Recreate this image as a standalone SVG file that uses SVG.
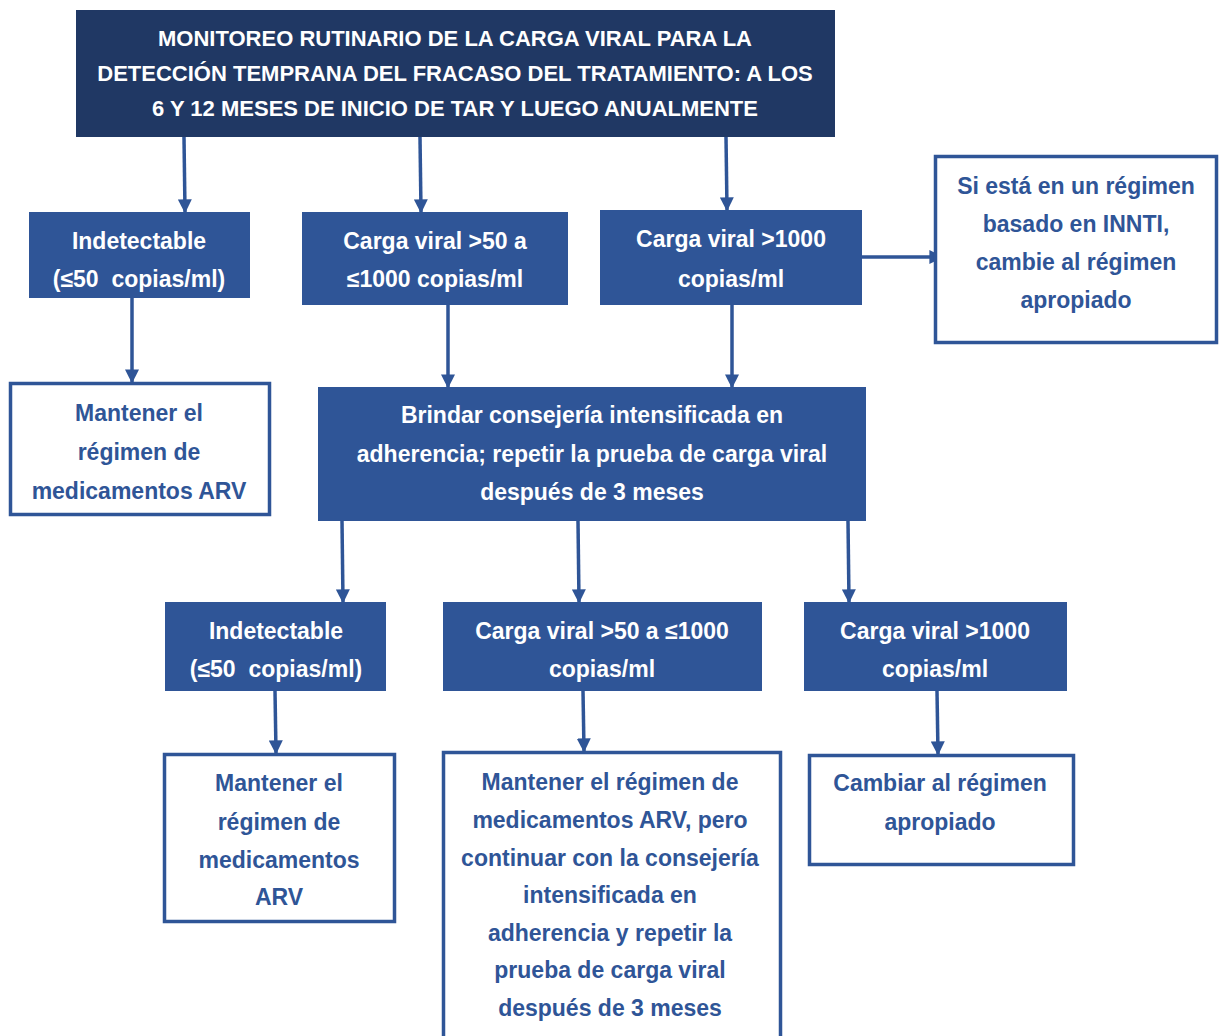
<svg xmlns="http://www.w3.org/2000/svg" width="1220" height="1036" viewBox="0 0 1220 1036">
<style>
.dark{fill:#203864}
.blue{fill:#2f5597}
.white{fill:#ffffff;stroke:#2f5597;stroke-width:3.5}
text{font-family:"Liberation Sans",Arial,sans-serif;font-weight:bold;text-anchor:middle;white-space:pre}
.tw{fill:#ffffff;font-size:23px}
.tt{fill:#ffffff;font-size:22px}
.tb{fill:#2f5597;font-size:23px}
.conn line{stroke:#2f5597;stroke-width:3.5;marker-end:url(#ah)}
</style>
<defs>
<marker id="ah" viewBox="0 0 10 10" refX="9" refY="5" markerWidth="4" markerHeight="4" orient="auto" markerUnits="strokeWidth">
<path d="M0,0 L10,5 L0,10 z" fill="#2f5597"/>
</marker>
</defs>
<rect width="1220" height="1036" fill="#ffffff"/>
<g class="conn">
<line x1="184" y1="137" x2="185" y2="212"/>
<line x1="420" y1="137" x2="421" y2="212"/>
<line x1="726" y1="137" x2="727" y2="210"/>
<line x1="862" y1="257" x2="942" y2="257"/>
<line x1="132" y1="298" x2="132" y2="382"/>
<line x1="448" y1="305" x2="448" y2="387"/>
<line x1="732" y1="305" x2="732" y2="387"/>
<line x1="342" y1="521" x2="343" y2="602"/>
<line x1="578" y1="521" x2="579" y2="602"/>
<line x1="848" y1="521" x2="849" y2="602"/>
<line x1="275" y1="691" x2="276" y2="753"/>
<line x1="583" y1="691" x2="584" y2="751"/>
<line x1="937" y1="691" x2="938" y2="754"/>
</g>
<g id="top">
<rect class="dark" x="76" y="10" width="759" height="127"/>
<text class="tt" x="455" y="46">MONITOREO RUTINARIO DE LA CARGA VIRAL PARA LA</text>
<text class="tt" x="455" y="81">DETECCIÓN TEMPRANA DEL FRACASO DEL TRATAMIENTO: A LOS</text>
<text class="tt" x="455" y="116">6 Y 12 MESES DE INICIO DE TAR Y LUEGO ANUALMENTE</text>
</g>
<g id="n1">
<rect class="blue" x="29" y="212" width="221" height="86"/>
<text class="tw" x="139" y="249">Indetectable</text>
<text class="tw" x="139" y="287">(≤50  copias/ml)</text>
</g>
<g id="n2">
<rect class="blue" x="302" y="212" width="266" height="93"/>
<text class="tw" x="435" y="249">Carga viral &gt;50 a</text>
<text class="tw" x="435" y="287">≤1000 copias/ml</text>
</g>
<g id="n3">
<rect class="blue" x="600" y="210" width="262" height="95"/>
<text class="tw" x="731" y="247">Carga viral &gt;1000</text>
<text class="tw" x="731" y="287">copias/ml</text>
</g>
<g id="n4">
<rect class="white" x="935.5" y="156.5" width="281" height="186"/>
<text class="tb" x="1076" y="194">Si está en un régimen</text>
<text class="tb" x="1076" y="232">basado en INNTI,</text>
<text class="tb" x="1076" y="270">cambie al régimen</text>
<text class="tb" x="1076" y="308">apropiado</text>
</g>
<g id="n5">
<rect class="white" x="10.5" y="383.5" width="259" height="131"/>
<text class="tb" x="139" y="421">Mantener el</text>
<text class="tb" x="139" y="460">régimen de</text>
<text class="tb" x="139" y="499">medicamentos ARV</text>
</g>
<g id="n6">
<rect class="blue" x="318" y="387" width="548" height="134"/>
<text class="tw" x="592" y="423">Brindar consejería intensificada en</text>
<text class="tw" x="592" y="462">adherencia; repetir la prueba de carga viral</text>
<text class="tw" x="592" y="500">después de 3 meses</text>
</g>
<g id="n7">
<rect class="blue" x="165" y="602" width="221" height="89"/>
<text class="tw" x="276" y="639">Indetectable</text>
<text class="tw" x="276" y="677">(≤50  copias/ml)</text>
</g>
<g id="n8">
<rect class="blue" x="443" y="602" width="319" height="89"/>
<text class="tw" x="602" y="639">Carga viral &gt;50 a ≤1000</text>
<text class="tw" x="602" y="677">copias/ml</text>
</g>
<g id="n9">
<rect class="blue" x="804" y="602" width="263" height="89"/>
<text class="tw" x="935" y="639">Carga viral &gt;1000</text>
<text class="tw" x="935" y="677">copias/ml</text>
</g>
<g id="n10">
<rect class="white" x="164.5" y="754.5" width="230" height="167"/>
<text class="tb" x="279" y="791">Mantener el</text>
<text class="tb" x="279" y="830">régimen de</text>
<text class="tb" x="279" y="868">medicamentos</text>
<text class="tb" x="279" y="905">ARV</text>
</g>
<g id="n11">
<rect class="white" x="443.5" y="752.5" width="337" height="290"/>
<text class="tb" x="610" y="790">Mantener el régimen de</text>
<text class="tb" x="610" y="828">medicamentos ARV, pero</text>
<text class="tb" x="610" y="866">continuar con la consejería</text>
<text class="tb" x="610" y="903">intensificada en</text>
<text class="tb" x="610" y="941">adherencia y repetir la</text>
<text class="tb" x="610" y="978">prueba de carga viral</text>
<text class="tb" x="610" y="1016">después de 3 meses</text>
</g>
<g id="n12">
<rect class="white" x="809.5" y="755.5" width="264" height="109"/>
<text class="tb" x="940" y="791">Cambiar al régimen</text>
<text class="tb" x="940" y="830">apropiado</text>
</g>
</svg>
